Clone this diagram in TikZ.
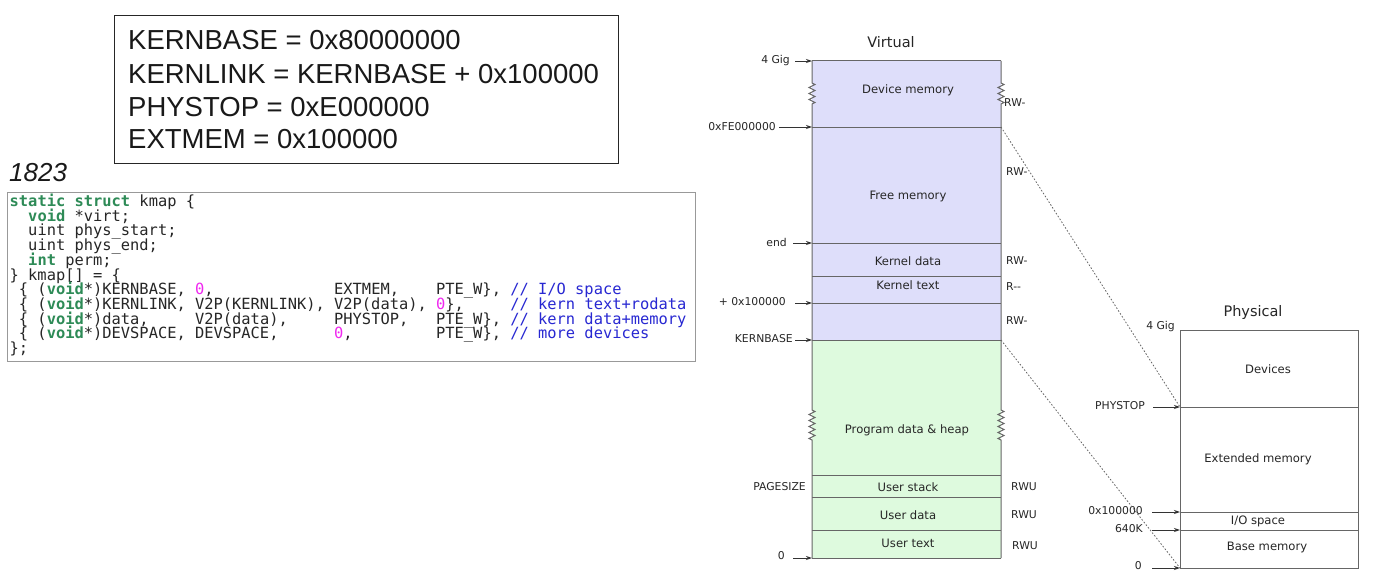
\documentclass[tikz,border=0pt]{standalone}
\usepackage{fontspec}
\setmainfont{DejaVu Sans}
\newfontfamily\arialf{Liberation Sans}
\newfontfamily\codef{DejaVu Sans Mono}
\usetikzlibrary{decorations.pathmorphing,arrows.meta}
\definecolor{kwgreen}{RGB}{46,139,87}
\definecolor{nummag}{RGB}{240,40,240}
\definecolor{cmtblue}{RGB}{40,40,210}
\definecolor{lav}{RGB}{222,222,250}
\definecolor{mint}{RGB}{222,250,222}
\newlength\cw
\setlength\cw{9.27pt}
\newcommand\bl[1]{\hspace*{#1\cw}}
\newcommand\kw[1]{\textcolor{kwgreen}{\bfseries #1}}
\newcommand\nm[1]{\textcolor{nummag}{#1}}
\newcommand\cm[1]{\textcolor{cmtblue}{#1}}
\begin{document}
\begin{tikzpicture}[x=1pt,y=-1pt,
  codeline/.style={anchor=base west,inner sep=0,font=\codef\fontsize{15.4}{14.7}\selectfont,text=black!85},
  defline/.style={anchor=base west,inner sep=0,font=\arialf\fontsize{27.5}{33}\selectfont,text=black!90},
  lbl/.style={inner sep=0,font=\fontsize{10.8}{12}\selectfont,text=black!85},
  addr/.style={lbl,anchor=east},
  permlbl/.style={lbl,anchor=west},
  region/.style={inner sep=0,font=\fontsize{11.6}{13}\selectfont,text=black!85},
  ttl/.style={inner sep=0,font=\fontsize{14.5}{17}\selectfont,text=black!85},
  ptr/.style={-{Stealth[length=6pt,width=4pt]},line width=0.9pt,draw=black!80},
  divider/.style={line width=0.9pt,draw=black!60},
  wall/.style={line width=1pt,draw=black!60},
  mapline/.style={dash pattern=on 1.6pt off 1.8pt,line width=0.8pt,draw=black!60},
  zz/.style={decoration={zigzag,segment length=6pt,amplitude=3pt}},
]
\useasboundingbox (0,0) rectangle (1376,586);
\fill[white] (0,0) rectangle (1376,586);

% definitions box
\node[draw=black!85,line width=1.1pt,minimum width=504pt,minimum height=148pt,anchor=north west,inner sep=0] (defs) at (114,15) {};
\node[defline] (d1) at (128,50) {KERNBASE = 0x80000000};
\node[defline] (d2) at (128,83) {KERNLINK = KERNBASE + 0x100000};
\node[defline] (d3) at (128,116) {PHYSTOP = 0xE000000};
\node[defline] (d4) at (128,148) {EXTMEM = 0x100000};

\node[anchor=base west,inner sep=0,font=\arialf\itshape\fontsize{26}{30}\selectfont,text=black!90] (num) at (9,181) {1823};

% code box
\node[draw=black!40,line width=0.8pt,minimum width=688pt,minimum height=169pt,anchor=north west,inner sep=0] (codebox) at (7,192) {};
\node[codeline] (c0) at (9.5,206.5) {\kw{static}\bl1\kw{struct}\bl1kmap\bl1\{};
\node[codeline] (c1) at (9.5,221.2) {\bl2\kw{void}\bl1*virt;};
\node[codeline] (c2) at (9.5,235.9) {\bl2uint\bl1phys\_start;};
\node[codeline] (c3) at (9.5,250.6) {\bl2uint\bl1phys\_end;};
\node[codeline] (c4) at (9.5,265.3) {\bl2\kw{int}\bl1perm;};
\node[codeline] (c5) at (9.5,280.0) {\}\bl1kmap[]\bl1=\bl1\{};
\node[codeline] (c6) at (9.5,294.7) {\bl1\{\bl1(\kw{void}*)KERNBASE,\bl1\nm{0},\bl{13}EXTMEM,\bl4PTE\_W\},\bl1\cm{//\bl1I/O\bl1space}};
\node[codeline] (c7) at (9.5,309.4) {\bl1\{\bl1(\kw{void}*)KERNLINK,\bl1V2P(KERNLINK),\bl1V2P(data),\bl1\nm{0}\},\bl5\cm{//\bl1kern\bl1text+rodata}};
\node[codeline] (c8) at (9.5,324.1) {\bl1\{\bl1(\kw{void}*)data,\bl5V2P(data),\bl5PHYSTOP,\bl3PTE\_W\},\bl1\cm{//\bl1kern\bl1data+memory}};
\node[codeline] (c9) at (9.5,338.8) {\bl1\{\bl1(\kw{void}*)DEVSPACE,\bl1DEVSPACE,\bl6\nm{0},\bl9PTE\_W\},\bl1\cm{//\bl1more\bl1devices}};
\node[codeline] (c10) at (9.5,353.5) {\};};

% ---------- Virtual ----------
\node[ttl] (vt) at (891,42) {Virtual};
\fill[lav] (812,61) rectangle (1001,340);
\fill[mint] (812,340) rectangle (1001,558);
\foreach \yy in {127,243,276,303,340,475,497,530}
  \draw[divider] (812,\yy) -- (1001,\yy);
\draw[wall] (812,61) -- (1001,61);
\draw[wall] (812,558) -- (1001,558);
\draw[wall] (812,61) -- (812,83) decorate[zz]{-- (812,105)} -- (812,410) decorate[zz]{-- (812,440)} -- (812,558);
\draw[wall] (1001,61) -- (1001,83) decorate[zz]{-- (1001,105)} -- (1001,410) decorate[zz]{-- (1001,440)} -- (1001,558);

\coordinate (vtop) at (812,61);
\coordinate (vfe) at (812,127);
\coordinate (vend) at (812,243);
\coordinate (vkl) at (812,303);
\coordinate (vkb) at (812,340);
\coordinate (vzero) at (812,558);
\coordinate (vfeR) at (1001,127);
\coordinate (vkbR) at (1001,340);

\node[region] (rdev) at (908,90) {Device memory};
\node[region] (rfree) at (908,196) {Free memory};
\node[region] (rkd) at (908,261) {Kernel data};
\node[region] (rkt) at (908,285) {Kernel text};
\node[region] (rprog) at (907,430) {Program data \& heap};
\node[region] (rus) at (908,487) {User stack};
\node[region] (rud) at (908,515) {User data};
\node[region] (rut) at (908,543) {User text};

\node[addr] (l4g) at (790,61) {4 Gig};
\node[addr] (lfe) at (776,127) {0xFE000000};
\node[addr] (lend) at (787,242) {end};
\node[addr] (lkl) at (786,302) {+ 0x100000};
\node[addr] (lkb) at (793,339) {KERNBASE};
\node[addr] (lpg) at (806,487) {PAGESIZE};
\node[addr] (l0) at (785,556) {0};
\draw[ptr] ([xshift=5pt]l4g.east) -- (vtop);
\draw[ptr] ([xshift=3pt]lfe.east) -- (vfe);
\draw[ptr] ([xshift=6pt]lend.east |- vend) -- (vend);
\draw[ptr] ([xshift=9pt]lkl.east |- vkl) -- (vkl);
\draw[ptr] ([xshift=2pt]lkb.east |- vkb) -- (vkb);
\draw[ptr] ([xshift=8pt]l0.east |- vzero) -- (vzero);

\node[permlbl] (p1) at (1004,103) {RW-};
\node[permlbl] (p2) at (1006,172) {RW-};
\node[permlbl] (p3) at (1006,261) {RW-};
\node[permlbl] (p4) at (1006,287) {R-{}-};
\node[permlbl] (p5) at (1006,321) {RW-};
\node[permlbl] (p6) at (1011,487) {RWU};
\node[permlbl] (p7) at (1011,515) {RWU};
\node[permlbl] (p8) at (1012,546) {RWU};

% ---------- Physical ----------
\node[ttl] (pt) at (1253,312) {Physical};
\draw[wall,fill=white] (1180,330) rectangle (1358,568);
\foreach \yy in {407,512,530}
  \draw[divider] (1180,\yy) -- (1358,\yy);
\coordinate (pstop) at (1180,407);
\coordinate (pext) at (1180,512);
\coordinate (p640) at (1180,530);
\coordinate (pzero) at (1180,568);

\node[region] (rdevs) at (1268,369) {Devices};
\node[region] (rext) at (1258,459) {Extended memory};
\node[region] (rio) at (1258,521) {I/O space};
\node[region] (rbase) at (1267,547) {Base memory};

\node[addr] (m4g) at (1175,327) {4 Gig};
\node[addr] (mstop) at (1145,406) {PHYSTOP};
\node[addr] (mext) at (1143,511) {0x100000};
\node[addr] (m640) at (1143,529) {640K};
\node[addr] (m0) at (1142,566) {0};
\draw[ptr] ([xshift=8pt]mstop.east |- pstop) -- (pstop);
\draw[ptr] ([xshift=9pt]mext.east |- pext) -- (pext);
\draw[ptr] ([xshift=9pt]m640.east |- p640) -- (p640);
\draw[ptr] ([xshift=10pt]m0.east |- pzero) -- (pzero);

% mappings
\draw[mapline] (vfeR) -- (pstop);
\draw[mapline] (vkbR) -- (pzero);
\end{tikzpicture}
\end{document}
